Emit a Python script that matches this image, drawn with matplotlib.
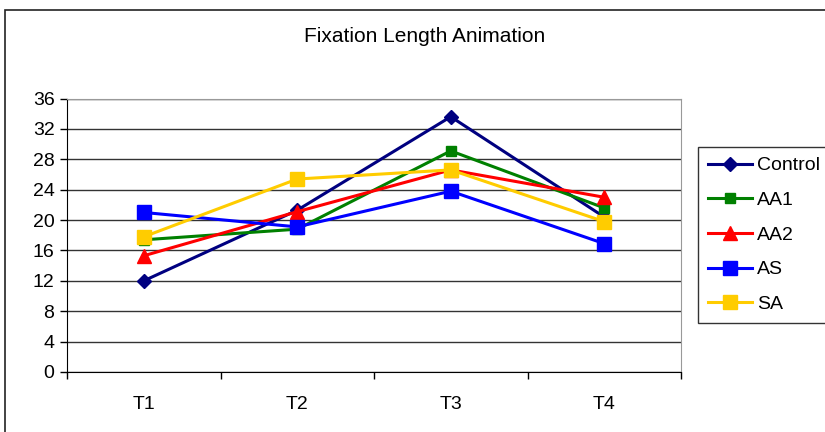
import matplotlib.pyplot as plt
import matplotlib.patches as patches

plt.rcParams['font.family'] = ['Liberation Sans', 'DejaVu Sans']

categories = ['T1', 'T2', 'T3', 'T4']
control = [12.0, 21.3, 33.6, 20.4]
aa1 = [17.4, 18.8, 29.1, 21.6]
aa2 = [15.3, 21.1, 26.6, 23.0]
as_vals = [21.0, 19.1, 23.8, 16.9]
sa = [17.8, 25.4, 26.6, 19.8]

series = [
    ('Control', control, '#000080', 'D', 7),
    ('AA1', aa1, '#008000', 's', 7),
    ('AA2', aa2, '#FF0000', '^', 10),
    ('AS', as_vals, '#0000FF', 's', 10.5),
    ('SA', sa, '#FFCC00', 's', 10.5),
]

W, H = 825, 432
fs = 14
fig = plt.figure(figsize=(W / 100, H / 100), dpi=100)

# outer chart frame (cut off at right and bottom like the source)
fig.patches.append(patches.Rectangle((5 / W, -0.1), 2, 1 - 10 / H + 0.1,
                                     transform=fig.transFigure, fill=False,
                                     edgecolor='#222222', lw=1.2, zorder=0))

ax = fig.add_axes([67 / W, 1 - 372 / H, 614 / W, 273.5 / H])
x = [i + 0.5 for i in range(len(categories))]

for name, vals, col, mk, ms in series:
    ax.plot(x, vals, color=col, lw=2.2, marker=mk, ms=ms,
            markeredgecolor=col, label=name, zorder=3)

ax.set_xlim(0, 4)
ax.set_ylim(0, 36)
ax.set_yticks(range(0, 37, 4))
ax.set_xticks(range(0, 5))
ax.set_xticklabels([])
ax.set_xticks(x, minor=True)
ax.set_xticklabels(categories, minor=True)
ax.tick_params(axis='x', which='minor', length=0, pad=17, labelsize=fs)
ax.tick_params(axis='x', which='major', length=5, direction='out', width=1)
ax.tick_params(axis='y', length=5, direction='out', width=1, labelsize=fs, pad=4)
ax.yaxis.grid(True, color='#333333', lw=1)
ax.set_axisbelow(True)
for s in ['top', 'right']:
    ax.spines[s].set_color('#999999')
for s in ['left', 'bottom']:
    ax.spines[s].set_color('black')

fig.text(425 / W, 1 - 37 / H, 'Fixation Length Animation', ha='center', va='center', fontsize=15)

leg = ax.legend(loc='upper left', bbox_to_anchor=(698 / W, 1 - 147 / H),
                bbox_transform=fig.transFigure, frameon=True, fancybox=False,
                edgecolor='black', fontsize=fs, handlelength=2.3,
                handletextpad=0.25, labelspacing=0.88, borderpad=0.5,
                borderaxespad=0)
leg.get_frame().set_linewidth(1)

fig.savefig('out.png', dpi=100)
